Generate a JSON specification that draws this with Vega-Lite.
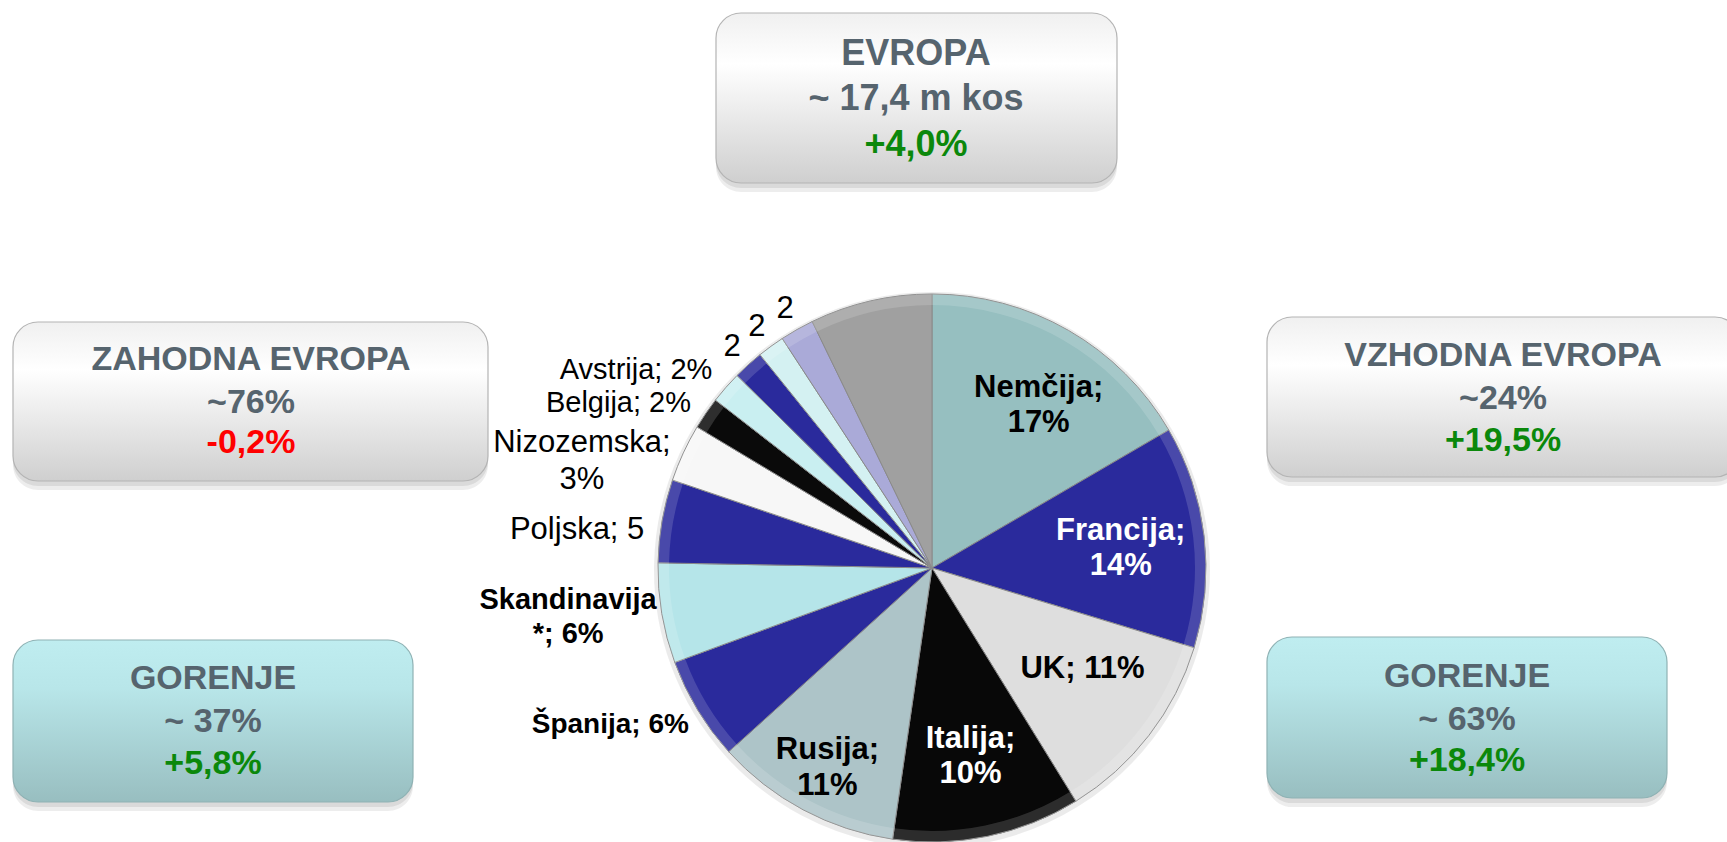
{
  "$schema": "https://vega.github.io/schema/vega-lite/v6.json",
  "width": 1727,
  "height": 842,
  "padding": 0,
  "autosize": {"type": "none"},
  "background": "#ffffff",
  "config": {"view": {"stroke": null}, "axis": {"disable": true}, "text": {"font": "Liberation Sans"}},
  "datasets": {
    "slices": [
      {"country": "Nemčija", "share": 16.6, "rank": 1, "label": "Nemčija;\n17%"},
      {"country": "Francija", "share": 13.1, "rank": 2, "label": "Francija;\n14%"},
      {"country": "UK", "share": 11.5, "rank": 3, "label": "UK; 11%"},
      {"country": "Italija", "share": 11.1, "rank": 4, "label": "Italija;\n10%"},
      {"country": "Rusija", "share": 11.0, "rank": 5, "label": "Rusija;\n11%"},
      {"country": "Španija", "share": 6.1, "rank": 6, "label": "Španija; 6%"},
      {"country": "Skandinavija", "share": 5.9, "rank": 7, "label": "Skandinavija\n*; 6%"},
      {"country": "Poljska", "share": 4.9, "rank": 8, "label": "Poljska; 5"},
      {"country": "Nizozemska", "share": 3.4, "rank": 9, "label": "Nizozemska;\n3%"},
      {"country": "Belgija", "share": 1.9, "rank": 10, "label": "Belgija; 2%"},
      {"country": "Avstrija", "share": 1.9, "rank": 11, "label": "Avstrija; 2%"},
      {"country": "Država 12", "share": 1.8, "rank": 12, "label": "2"},
      {"country": "Država 13", "share": 1.6, "rank": 13, "label": "2"},
      {"country": "Država 14", "share": 2.0, "rank": 14, "label": "2"},
      {"country": "Ostalo", "share": 7.2, "rank": 15, "label": ""}
    ],
    "boxes": [
      {"box": "EVROPA", "head": "EVROPA", "value": "~ 17,4 m kos", "change": "+4,0%"},
      {"box": "ZAHODNA", "head": "ZAHODNA EVROPA", "value": "~76%", "change": "-0,2%"},
      {"box": "VZHODNA", "head": "VZHODNA EVROPA", "value": "~24%", "change": "+19,5%"},
      {"box": "GORENJE_Z", "head": "GORENJE", "value": "~ 37%", "change": "+5,8%"},
      {"box": "GORENJE_V", "head": "GORENJE", "value": "~ 63%", "change": "+18,4%"}
    ]
  },
  "layer": [
    {
      "data": {"name": "slices"},
      "mark": {"type": "arc", "outerRadius": 278, "color": "#000000", "opacity": 0.08},
      "encoding": {
        "x": {"datum": 932, "type": "quantitative", "scale": {"domain": [0, 1727], "nice": false, "zero": false}},
        "y": {"datum": 570, "type": "quantitative", "scale": {"domain": [0, 842], "reverse": true, "nice": false, "zero": false}},
        "theta": {"field": "share", "type": "quantitative", "stack": true},
        "order": {"field": "rank", "type": "quantitative"}
      }
    },
    {
      "data": {"name": "slices"},
      "mark": {"type": "arc", "outerRadius": 274, "stroke": "#8a8a8a", "strokeWidth": 1},
      "encoding": {
        "x": {"datum": 932, "type": "quantitative"},
        "y": {"datum": 568, "type": "quantitative"},
        "theta": {"field": "share", "type": "quantitative", "stack": true},
        "order": {"field": "rank", "type": "quantitative"},
        "color": {
          "field": "country", "type": "nominal", "legend": null,
          "scale": {
            "domain": ["Nemčija", "Francija", "UK", "Italija", "Rusija", "Španija", "Skandinavija", "Poljska", "Nizozemska", "Belgija", "Avstrija", "Država 12", "Država 13", "Država 14", "Ostalo"],
            "range": ["#96bfc0", "#2a2a9c", "#dedede", "#080808", "#adc4c8", "#2a2a9c", "#b5e5e9", "#2a2a9c", "#f7f7f7", "#0a0a0a", "#c9eff1", "#2a2a9c", "#d4f1f2", "#aaaad8", "#a0a0a0"]
          }
        }
      }
    },
    {
      "data": {"name": "slices"},
      "mark": {"type": "arc", "outerRadius": 274, "innerRadius": 263, "color": "#ffffff", "opacity": 0.15},
      "encoding": {
        "x": {"datum": 932, "type": "quantitative"},
        "y": {"datum": 568, "type": "quantitative"},
        "theta": {"field": "share", "type": "quantitative", "stack": true},
        "order": {"field": "rank", "type": "quantitative"}
      }
    },
    {
      "data": {"name": "slices"},
      "mark": {"type": "text", "radius": 190, "fontSize": 31, "fontWeight": "bold", "lineBreak": "\n", "lineHeight": 35, "align": "center", "baseline": "middle", "dy": -15},
      "encoding": {
        "x": {"datum": 932, "type": "quantitative"},
        "y": {"datum": 568, "type": "quantitative"},
        "theta": {"field": "share", "type": "quantitative", "stack": true},
        "order": {"field": "rank", "type": "quantitative"},
        "text": {"condition": {"test": "indexof(['Francija','UK','Italija'], datum.country) >= 0", "field": "label", "type": "nominal"}, "value": ""},
        "color": {"condition": {"test": "datum.country === 'Francija' || datum.country === 'Italija'", "value": "#ffffff"}, "value": "#000000"}
      }
    },
    {
      "data": {"name": "slices"},
      "mark": {"type": "text", "radius": 190, "fontSize": 31, "fontWeight": "bold", "lineBreak": "\n", "lineHeight": 35, "align": "center", "baseline": "middle", "dx": 12, "dy": -15, "color": "#000000"},
      "encoding": {
        "x": {"datum": 932, "type": "quantitative"},
        "y": {"datum": 568, "type": "quantitative"},
        "theta": {"field": "share", "type": "quantitative", "stack": true},
        "order": {"field": "rank", "type": "quantitative"},
        "text": {"condition": {"test": "datum.country === 'Nemčija'", "field": "label", "type": "nominal"}, "value": ""}
      }
    },
    {
      "data": {"name": "slices"},
      "mark": {"type": "text", "radius": 222, "fontSize": 31, "fontWeight": "bold", "lineBreak": "\n", "lineHeight": 36, "align": "center", "baseline": "middle", "dy": -14, "color": "#000000"},
      "encoding": {
        "x": {"datum": 932, "type": "quantitative"},
        "y": {"datum": 568, "type": "quantitative"},
        "theta": {"field": "share", "type": "quantitative", "stack": true},
        "order": {"field": "rank", "type": "quantitative"},
        "text": {"condition": {"test": "datum.country === 'Rusija'", "field": "label", "type": "nominal"}, "value": ""}
      }
    },
    {
      "data": {"name": "slices"},
      "mark": {"type": "text", "radius": 284, "fontSize": 28, "fontWeight": "bold", "align": "right", "baseline": "middle", "dy": 10, "color": "#000000"},
      "encoding": {
        "x": {"datum": 932, "type": "quantitative"},
        "y": {"datum": 568, "type": "quantitative"},
        "theta": {"field": "share", "type": "quantitative", "stack": true},
        "order": {"field": "rank", "type": "quantitative"},
        "text": {"condition": {"test": "datum.country === 'Španija'", "field": "label", "type": "nominal"}, "value": ""}
      }
    },
    {
      "data": {"name": "slices"},
      "mark": {"type": "text", "radius": 369, "fontSize": 29, "fontWeight": "bold", "lineBreak": "\n", "lineHeight": 34, "align": "center", "baseline": "middle", "dy": -29, "color": "#000000"},
      "encoding": {
        "x": {"datum": 932, "type": "quantitative"},
        "y": {"datum": 568, "type": "quantitative"},
        "theta": {"field": "share", "type": "quantitative", "stack": true},
        "order": {"field": "rank", "type": "quantitative"},
        "text": {"condition": {"test": "datum.country === 'Skandinavija'", "field": "label", "type": "nominal"}, "value": ""}
      }
    },
    {
      "data": {"name": "slices"},
      "mark": {"type": "text", "radius": 292, "fontSize": 31, "align": "right", "baseline": "middle", "dy": 12, "color": "#000000"},
      "encoding": {
        "x": {"datum": 932, "type": "quantitative"},
        "y": {"datum": 568, "type": "quantitative"},
        "theta": {"field": "share", "type": "quantitative", "stack": true},
        "order": {"field": "rank", "type": "quantitative"},
        "text": {"condition": {"test": "datum.country === 'Poljska'", "field": "label", "type": "nominal"}, "value": ""}
      }
    },
    {
      "data": {"name": "slices"},
      "mark": {"type": "text", "radius": 292, "fontSize": 29, "align": "right", "baseline": "middle", "dy": 0, "color": "#000000"},
      "encoding": {
        "x": {"datum": 932, "type": "quantitative"},
        "y": {"datum": 568, "type": "quantitative"},
        "theta": {"field": "share", "type": "quantitative", "stack": true},
        "order": {"field": "rank", "type": "quantitative"},
        "text": {"condition": {"test": "datum.country === 'Belgija'", "field": "label", "type": "nominal"}, "value": ""}
      }
    },
    {
      "data": {"name": "slices"},
      "mark": {"type": "text", "radius": 292, "fontSize": 29, "align": "right", "baseline": "middle", "dy": -6, "color": "#000000"},
      "encoding": {
        "x": {"datum": 932, "type": "quantitative"},
        "y": {"datum": 568, "type": "quantitative"},
        "theta": {"field": "share", "type": "quantitative", "stack": true},
        "order": {"field": "rank", "type": "quantitative"},
        "text": {"condition": {"test": "datum.country === 'Avstrija'", "field": "label", "type": "nominal"}, "value": ""}
      }
    },
    {
      "data": {"name": "slices"},
      "mark": {"type": "text", "radius": 366, "fontSize": 31, "lineBreak": "\n", "lineHeight": 37, "align": "center", "baseline": "middle", "dx": -18, "dy": 29, "color": "#000000"},
      "encoding": {
        "x": {"datum": 932, "type": "quantitative"},
        "y": {"datum": 568, "type": "quantitative"},
        "theta": {"field": "share", "type": "quantitative", "stack": true},
        "order": {"field": "rank", "type": "quantitative"},
        "text": {"condition": {"test": "datum.country === 'Nizozemska'", "field": "label", "type": "nominal"}, "value": ""}
      }
    },
    {
      "data": {"name": "slices"},
      "mark": {"type": "text", "radius": 298, "fontSize": 31, "align": "center", "baseline": "middle", "color": "#000000"},
      "encoding": {
        "x": {"datum": 932, "type": "quantitative"},
        "y": {"datum": 568, "type": "quantitative"},
        "theta": {"field": "share", "type": "quantitative", "stack": true},
        "order": {"field": "rank", "type": "quantitative"},
        "text": {"condition": {"test": "indexof(['Država 12','Država 13','Država 14'], datum.country) >= 0", "field": "label", "type": "nominal"}, "value": ""}
      }
    },
    {
      "data": {"name": "boxes"},
      "transform": [{"filter": "datum.box === 'EVROPA'"}],
      "layer": [
        {"mark": {"type": "rect", "cornerRadius": 25, "color": "#000000", "opacity": 0.07, "yOffset": 9, "y2Offset": 9}, "encoding": {"x": {"datum": 716, "type": "quantitative"}, "x2": {"datum": 1117}, "y": {"datum": 13, "type": "quantitative"}, "y2": {"datum": 183}}},
        {"mark": {"type": "rect", "cornerRadius": 25, "color": "#000000", "opacity": 0.08, "yOffset": 5, "y2Offset": 5}, "encoding": {"x": {"datum": 716, "type": "quantitative"}, "x2": {"datum": 1117}, "y": {"datum": 13, "type": "quantitative"}, "y2": {"datum": 183}}},
        {"mark": {"type": "rect", "cornerRadius": 25, "stroke": "#b4b4b4", "strokeWidth": 1.2, "fill": {"gradient": "linear", "x1": 0, "y1": 0, "x2": 0, "y2": 1, "stops": [{"offset": 0, "color": "#f0f0f0"}, {"offset": 0.3, "color": "#ffffff"}, {"offset": 1, "color": "#cfcfcf"}]}}, "encoding": {"x": {"datum": 716, "type": "quantitative"}, "x2": {"datum": 1117}, "y": {"datum": 13, "type": "quantitative"}, "y2": {"datum": 183}}},
        {"mark": {"type": "text", "fontSize": 36, "fontWeight": "bold", "color": "#56646e", "baseline": "middle"}, "encoding": {"x": {"datum": 916, "type": "quantitative"}, "y": {"datum": 54, "type": "quantitative"}, "text": {"field": "head", "type": "nominal"}}},
        {"mark": {"type": "text", "fontSize": 36, "fontWeight": "bold", "color": "#56646e", "baseline": "middle"}, "encoding": {"x": {"datum": 916, "type": "quantitative"}, "y": {"datum": 99, "type": "quantitative"}, "text": {"field": "value", "type": "nominal"}}},
        {"mark": {"type": "text", "fontSize": 36, "fontWeight": "bold", "baseline": "middle"}, "encoding": {"x": {"datum": 916, "type": "quantitative"}, "y": {"datum": 145, "type": "quantitative"}, "text": {"field": "change", "type": "nominal"}, "color": {"condition": {"test": "slice(datum.change, 0, 1) === '-'", "value": "#ff0000"}, "value": "#0b880b"}}}
      ]
    },
    {
      "data": {"name": "boxes"},
      "transform": [{"filter": "datum.box === 'ZAHODNA'"}],
      "layer": [
        {"mark": {"type": "rect", "cornerRadius": 25, "color": "#000000", "opacity": 0.07, "yOffset": 9, "y2Offset": 9}, "encoding": {"x": {"datum": 13, "type": "quantitative"}, "x2": {"datum": 488}, "y": {"datum": 322, "type": "quantitative"}, "y2": {"datum": 481}}},
        {"mark": {"type": "rect", "cornerRadius": 25, "color": "#000000", "opacity": 0.08, "yOffset": 5, "y2Offset": 5}, "encoding": {"x": {"datum": 13, "type": "quantitative"}, "x2": {"datum": 488}, "y": {"datum": 322, "type": "quantitative"}, "y2": {"datum": 481}}},
        {"mark": {"type": "rect", "cornerRadius": 25, "stroke": "#b4b4b4", "strokeWidth": 1.2, "fill": {"gradient": "linear", "x1": 0, "y1": 0, "x2": 0, "y2": 1, "stops": [{"offset": 0, "color": "#f0f0f0"}, {"offset": 0.3, "color": "#ffffff"}, {"offset": 1, "color": "#cfcfcf"}]}}, "encoding": {"x": {"datum": 13, "type": "quantitative"}, "x2": {"datum": 488}, "y": {"datum": 322, "type": "quantitative"}, "y2": {"datum": 481}}},
        {"mark": {"type": "text", "fontSize": 34, "fontWeight": "bold", "color": "#56646e", "baseline": "middle"}, "encoding": {"x": {"datum": 251, "type": "quantitative"}, "y": {"datum": 360, "type": "quantitative"}, "text": {"field": "head", "type": "nominal"}}},
        {"mark": {"type": "text", "fontSize": 34, "fontWeight": "bold", "color": "#56646e", "baseline": "middle"}, "encoding": {"x": {"datum": 251, "type": "quantitative"}, "y": {"datum": 403, "type": "quantitative"}, "text": {"field": "value", "type": "nominal"}}},
        {"mark": {"type": "text", "fontSize": 34, "fontWeight": "bold", "baseline": "middle"}, "encoding": {"x": {"datum": 251, "type": "quantitative"}, "y": {"datum": 443, "type": "quantitative"}, "text": {"field": "change", "type": "nominal"}, "color": {"condition": {"test": "slice(datum.change, 0, 1) === '-'", "value": "#ff0000"}, "value": "#0b880b"}}}
      ]
    },
    {
      "data": {"name": "boxes"},
      "transform": [{"filter": "datum.box === 'VZHODNA'"}],
      "layer": [
        {"mark": {"type": "rect", "cornerRadius": 25, "color": "#000000", "opacity": 0.07, "yOffset": 9, "y2Offset": 9}, "encoding": {"x": {"datum": 1267, "type": "quantitative"}, "x2": {"datum": 1740}, "y": {"datum": 317, "type": "quantitative"}, "y2": {"datum": 477}}},
        {"mark": {"type": "rect", "cornerRadius": 25, "color": "#000000", "opacity": 0.08, "yOffset": 5, "y2Offset": 5}, "encoding": {"x": {"datum": 1267, "type": "quantitative"}, "x2": {"datum": 1740}, "y": {"datum": 317, "type": "quantitative"}, "y2": {"datum": 477}}},
        {"mark": {"type": "rect", "cornerRadius": 25, "stroke": "#b4b4b4", "strokeWidth": 1.2, "fill": {"gradient": "linear", "x1": 0, "y1": 0, "x2": 0, "y2": 1, "stops": [{"offset": 0, "color": "#f0f0f0"}, {"offset": 0.3, "color": "#ffffff"}, {"offset": 1, "color": "#cfcfcf"}]}}, "encoding": {"x": {"datum": 1267, "type": "quantitative"}, "x2": {"datum": 1740}, "y": {"datum": 317, "type": "quantitative"}, "y2": {"datum": 477}}},
        {"mark": {"type": "text", "fontSize": 34, "fontWeight": "bold", "color": "#56646e", "baseline": "middle"}, "encoding": {"x": {"datum": 1503, "type": "quantitative"}, "y": {"datum": 356, "type": "quantitative"}, "text": {"field": "head", "type": "nominal"}}},
        {"mark": {"type": "text", "fontSize": 34, "fontWeight": "bold", "color": "#56646e", "baseline": "middle"}, "encoding": {"x": {"datum": 1503, "type": "quantitative"}, "y": {"datum": 399, "type": "quantitative"}, "text": {"field": "value", "type": "nominal"}}},
        {"mark": {"type": "text", "fontSize": 34, "fontWeight": "bold", "baseline": "middle"}, "encoding": {"x": {"datum": 1503, "type": "quantitative"}, "y": {"datum": 441, "type": "quantitative"}, "text": {"field": "change", "type": "nominal"}, "color": {"condition": {"test": "slice(datum.change, 0, 1) === '-'", "value": "#ff0000"}, "value": "#0b880b"}}}
      ]
    },
    {
      "data": {"name": "boxes"},
      "transform": [{"filter": "datum.box === 'GORENJE_Z'"}],
      "layer": [
        {"mark": {"type": "rect", "cornerRadius": 25, "color": "#000000", "opacity": 0.07, "yOffset": 9, "y2Offset": 9}, "encoding": {"x": {"datum": 13, "type": "quantitative"}, "x2": {"datum": 413}, "y": {"datum": 640, "type": "quantitative"}, "y2": {"datum": 802}}},
        {"mark": {"type": "rect", "cornerRadius": 25, "color": "#000000", "opacity": 0.08, "yOffset": 5, "y2Offset": 5}, "encoding": {"x": {"datum": 13, "type": "quantitative"}, "x2": {"datum": 413}, "y": {"datum": 640, "type": "quantitative"}, "y2": {"datum": 802}}},
        {"mark": {"type": "rect", "cornerRadius": 25, "stroke": "#8fb2b4", "strokeWidth": 1.2, "fill": {"gradient": "linear", "x1": 0, "y1": 0, "x2": 0, "y2": 1, "stops": [{"offset": 0, "color": "#bfedf0"}, {"offset": 0.3, "color": "#b8e6e9"}, {"offset": 1, "color": "#98bec0"}]}}, "encoding": {"x": {"datum": 13, "type": "quantitative"}, "x2": {"datum": 413}, "y": {"datum": 640, "type": "quantitative"}, "y2": {"datum": 802}}},
        {"mark": {"type": "text", "fontSize": 34, "fontWeight": "bold", "color": "#56646e", "baseline": "middle"}, "encoding": {"x": {"datum": 213, "type": "quantitative"}, "y": {"datum": 679, "type": "quantitative"}, "text": {"field": "head", "type": "nominal"}}},
        {"mark": {"type": "text", "fontSize": 34, "fontWeight": "bold", "color": "#56646e", "baseline": "middle"}, "encoding": {"x": {"datum": 213, "type": "quantitative"}, "y": {"datum": 722, "type": "quantitative"}, "text": {"field": "value", "type": "nominal"}}},
        {"mark": {"type": "text", "fontSize": 34, "fontWeight": "bold", "baseline": "middle"}, "encoding": {"x": {"datum": 213, "type": "quantitative"}, "y": {"datum": 764, "type": "quantitative"}, "text": {"field": "change", "type": "nominal"}, "color": {"condition": {"test": "slice(datum.change, 0, 1) === '-'", "value": "#ff0000"}, "value": "#0b880b"}}}
      ]
    },
    {
      "data": {"name": "boxes"},
      "transform": [{"filter": "datum.box === 'GORENJE_V'"}],
      "layer": [
        {"mark": {"type": "rect", "cornerRadius": 25, "color": "#000000", "opacity": 0.07, "yOffset": 9, "y2Offset": 9}, "encoding": {"x": {"datum": 1267, "type": "quantitative"}, "x2": {"datum": 1667}, "y": {"datum": 637, "type": "quantitative"}, "y2": {"datum": 798}}},
        {"mark": {"type": "rect", "cornerRadius": 25, "color": "#000000", "opacity": 0.08, "yOffset": 5, "y2Offset": 5}, "encoding": {"x": {"datum": 1267, "type": "quantitative"}, "x2": {"datum": 1667}, "y": {"datum": 637, "type": "quantitative"}, "y2": {"datum": 798}}},
        {"mark": {"type": "rect", "cornerRadius": 25, "stroke": "#8fb2b4", "strokeWidth": 1.2, "fill": {"gradient": "linear", "x1": 0, "y1": 0, "x2": 0, "y2": 1, "stops": [{"offset": 0, "color": "#bfedf0"}, {"offset": 0.3, "color": "#b8e6e9"}, {"offset": 1, "color": "#98bec0"}]}}, "encoding": {"x": {"datum": 1267, "type": "quantitative"}, "x2": {"datum": 1667}, "y": {"datum": 637, "type": "quantitative"}, "y2": {"datum": 798}}},
        {"mark": {"type": "text", "fontSize": 34, "fontWeight": "bold", "color": "#56646e", "baseline": "middle"}, "encoding": {"x": {"datum": 1467, "type": "quantitative"}, "y": {"datum": 677, "type": "quantitative"}, "text": {"field": "head", "type": "nominal"}}},
        {"mark": {"type": "text", "fontSize": 34, "fontWeight": "bold", "color": "#56646e", "baseline": "middle"}, "encoding": {"x": {"datum": 1467, "type": "quantitative"}, "y": {"datum": 720, "type": "quantitative"}, "text": {"field": "value", "type": "nominal"}}},
        {"mark": {"type": "text", "fontSize": 34, "fontWeight": "bold", "baseline": "middle"}, "encoding": {"x": {"datum": 1467, "type": "quantitative"}, "y": {"datum": 761, "type": "quantitative"}, "text": {"field": "change", "type": "nominal"}, "color": {"condition": {"test": "slice(datum.change, 0, 1) === '-'", "value": "#ff0000"}, "value": "#0b880b"}}}
      ]
    }
  ]
}
